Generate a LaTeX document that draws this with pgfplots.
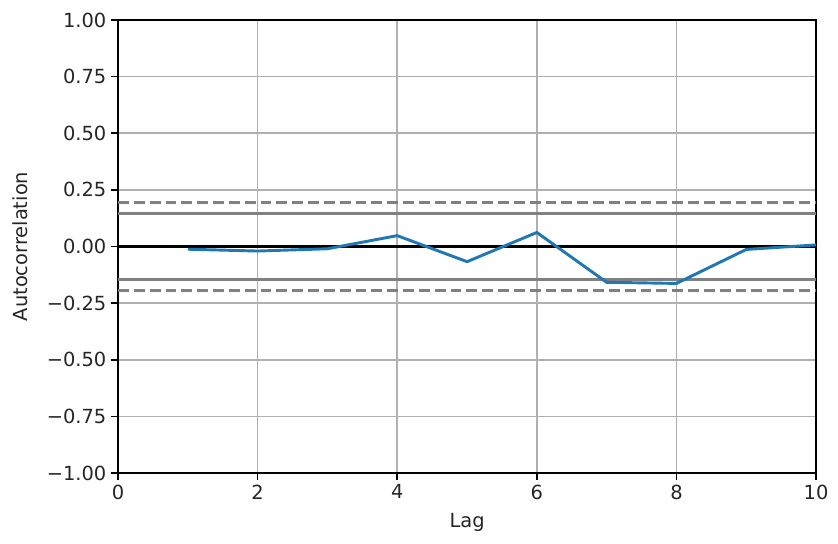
\documentclass[border=0pt]{standalone}
\usepackage{pgfplots}
\pgfplotsset{compat=1.18}
\usepackage{fontspec}
\setmainfont{DejaVu Sans}
\definecolor{mplblue}{HTML}{1F77B4}
\definecolor{gridc}{HTML}{B0B0B0}
\definecolor{greyc}{HTML}{808080}
\begin{document}
\begin{tikzpicture}
\begin{axis}[
  at={(0,0)}, anchor=south west,
  scale only axis,
  width=502.6pt, height=326.2pt,
  xmin=0, xmax=10, ymin=-1, ymax=1,
  xtick={0,2,4,6,8,10},
  ytick={-1,-0.75,-0.5,-0.25,0,0.25,0.5,0.75,1},
  yticklabels={−1.00,−0.75,−0.50,−0.25,0.00,0.25,0.50,0.75,1.00},
  /pgf/number format/assume math mode=true,
  xticklabel style={/pgf/number format/.cd,fixed},
  tick label style={font=\fontsize{14}{16}\selectfont, text=black!85},
  label style={font=\fontsize{14}{16}\selectfont, text=black!85},
  xlabel={Lag}, ylabel={Autocorrelation},
  xlabel style={yshift=-3pt},
  ylabel style={yshift=7pt},
  grid=major,
  major grid style={gridc, line width=1.1pt},
  axis line style={line width=1.1pt},
  tick style={black, line width=1.1pt},
  tick align=outside, major tick length=4.9pt,
  xtick pos=bottom, ytick pos=left,
  clip=true,
]
\addplot[greyc, line width=2.1pt, forget plot] coordinates {(0,0.147) (10,0.147)};
\addplot[greyc, line width=2.1pt, dash pattern=on 7.8pt off 3.6pt, forget plot] coordinates {(0,0.194) (10,0.194)};
\addplot[black, line width=2.1pt, forget plot] coordinates {(0,0) (10,0)};
\addplot[greyc, line width=2.1pt, dash pattern=on 7.8pt off 3.6pt, forget plot] coordinates {(0,-0.194) (10,-0.194)};
\addplot[greyc, line width=2.1pt, forget plot] coordinates {(0,-0.147) (10,-0.147)};
\addplot[mplblue, line width=2.1pt, mark=none] coordinates {
(1,-0.012) (2,-0.020) (3,-0.010) (4,0.048) (5,-0.067) (6,0.062) (7,-0.158) (8,-0.163) (9,-0.013) (10,0.007)
};
\end{axis}
\path (-85pt,-50.4pt) rectangle (518.4pt,340.6pt);
\end{tikzpicture}
\end{document}
